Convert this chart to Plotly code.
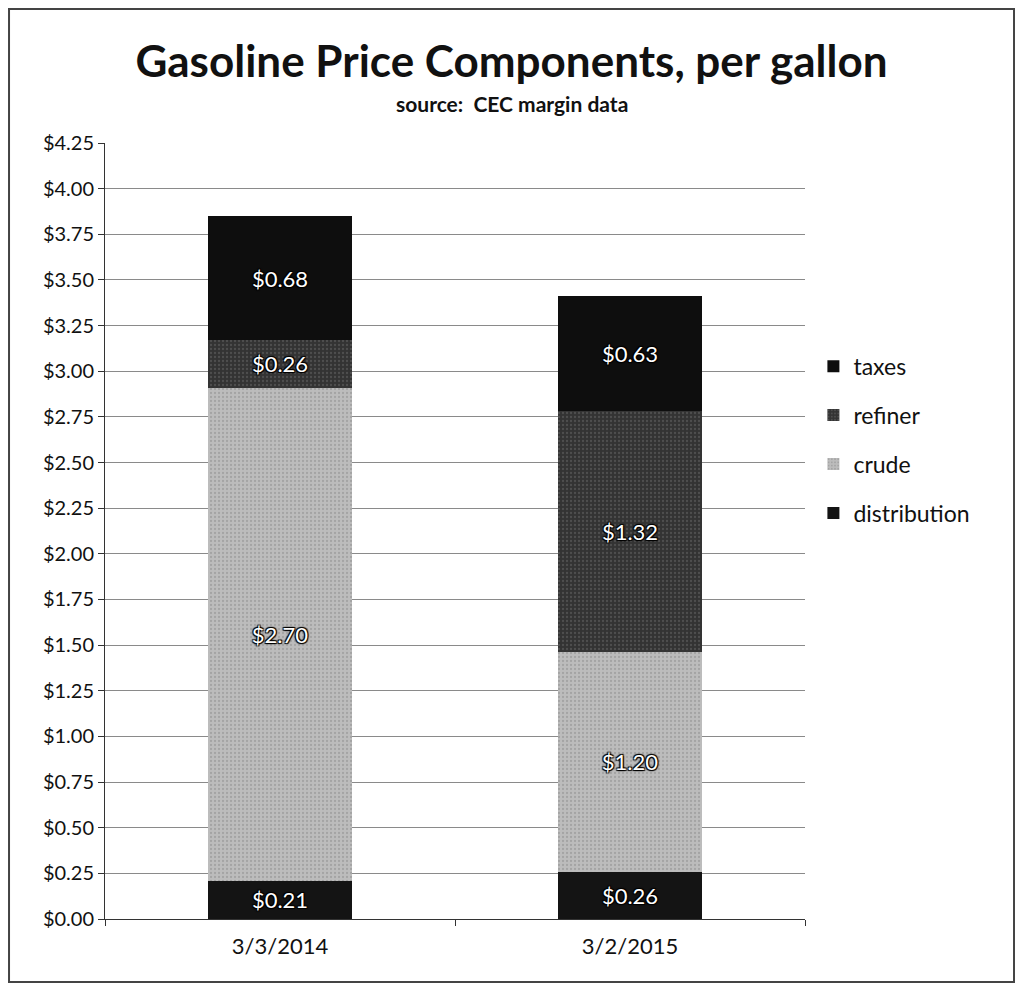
import plotly.graph_objects as go

dates = ["3/3/2014", "3/2/2015"]
series_names = ["distribution", "crude", "refiner", "taxes"]
distribution = [0.21, 0.26]
crude = [2.70, 1.20]
refiner = [0.26, 1.32]
taxes = [0.68, 0.63]
values = [distribution, crude, refiner, taxes]
colors = ["#141414", "#bcbcbc", "#333333", "#0e0e0e"]
patterns = ["", ".", ".", ""]
pattern_fg = ["#444444", "#8a8a8a", "#6a6a6a", "#333333"]
legend_ranks = [4, 3, 2, 1]

fig = go.Figure()
for name, vals, col, pat, pfg, rk in zip(series_names, values, colors, patterns, pattern_fg, legend_ranks):
    fig.add_trace(go.Bar(
        x=dates, y=vals, name=name, legendgroup=name, legendrank=rk,
        marker=dict(color=col, line=dict(width=0),
                    pattern=dict(shape=pat, fgcolor=pfg, size=4, solidity=0.25)),
        text=[f"${v:.2f}" for v in vals],
        textposition="inside", insidetextanchor="middle", textangle=0,
        textfont=dict(family="Lato, DejaVu Sans, sans-serif", size=22, color="white",
                      shadow="1px 1px 1px #000, -1px -1px 1px #000, 1px -1px 1px #000, -1px 1px 1px #000"),
        hoverinfo="skip",
    ))

fig.update_layout(
    width=1007, height=975,
    barmode="stack", bargap=0.59,
    paper_bgcolor="white", plot_bgcolor="white",
    margin=dict(l=97, r=210, t=135, b=64),
    font=dict(family="Lato, Liberation Sans, sans-serif", color="#111111"),
    title=dict(text="<b>Gasoline Price Components, per gallon</b>", x=0.5, xref="container",
               y=0.945, yref="container", xanchor="center", yanchor="middle",
               font=dict(size=44, color="#111111", family="Lato, sans-serif")),
    legend=dict(x=1.012, y=0.74, xanchor="left", yanchor="top",
                traceorder="grouped", tracegroupgap=16,
                font=dict(size=23, color="#111111"), itemwidth=30),
    showlegend=True,
)
fig.add_annotation(text="<b>source:  CEC margin data</b>", x=0.581, xref="paper", y=1.0515, yref="paper",
                   xanchor="center", yanchor="middle", showarrow=False,
                   font=dict(size=21, color="#111111"))
fig.update_yaxes(range=[0, 4.25], dtick=0.25, tick0=0, tickformat="$.2f",
                 showgrid=True, gridcolor="#8a8a8a", gridwidth=1,
                 showline=True, linecolor="#333333", linewidth=1,
                 ticks="outside", ticklen=6, tickcolor="#333333",
                 tickfont=dict(size=20, color="#111111"), zeroline=False)
fig.update_xaxes(showline=True, linecolor="#333333", linewidth=1,
                 ticks="outside", tickson="boundaries", ticklen=6, tickcolor="#333333",
                 ticklabelstandoff=8,
                 tickfont=dict(size=22, color="#111111"))
fig.add_shape(type="rect", xref="paper", yref="paper",
              x0=-0.1371, x1=1.2986, y0=-0.0812, y1=1.1727,
              line=dict(color="#444444", width=2), fillcolor="rgba(0,0,0,0)")

fig.write_html("out.html")
